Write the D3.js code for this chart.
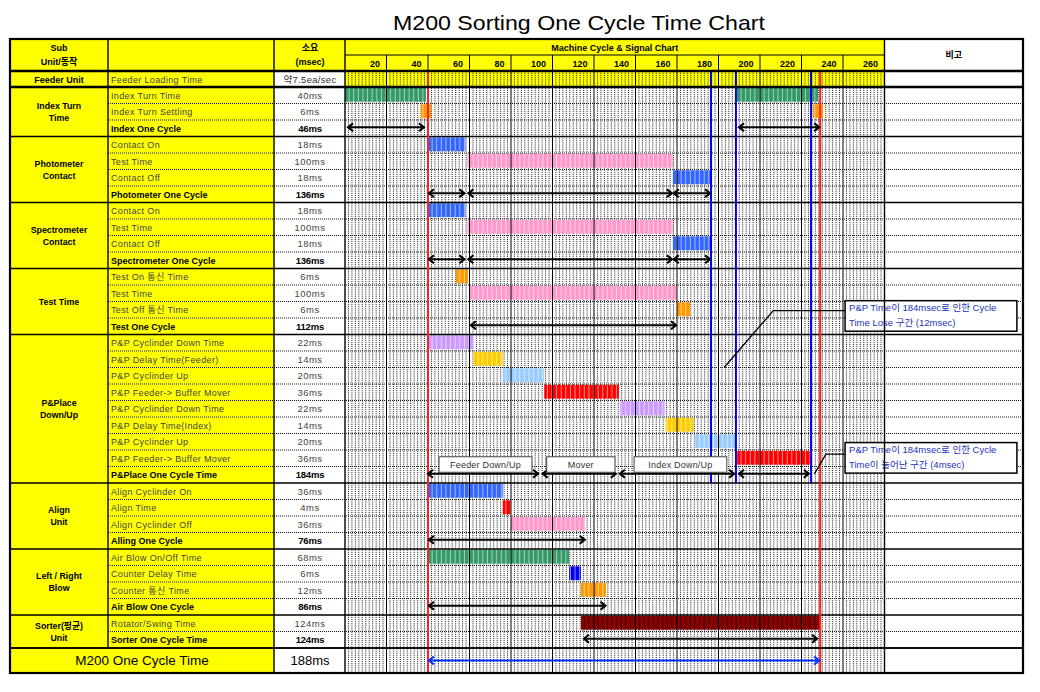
<!DOCTYPE html>
<html><head><meta charset="utf-8">
<script src="https://cdn.jsdelivr.net/npm/d3@7"></script>
<style>
body{margin:0;background:#fff}
svg{display:block}
text{font-family:"Liberation Sans","Noto Sans CJK KR",Arial,sans-serif}
</style>
</head><body>
<svg id="c" width="1040" height="692"></svg>
<script>
// ---------------- DATA ----------------
const title = "M200 Sorting One Cycle Time Chart";
const ticks = [20,40,60,80,100,120,140,160,180,200,220,240,260];
const groupNames = [["Index Turn","Time"],["Photometer","Contact"],["Spectrometer","Contact"],["Test Time"],["P&Place","Down/Up"],["Align","Unit"],["Left / Right","Blow"],["Sorter(평균)","Unit"]];
const groupSizes = [3,4,4,4,9,4,4,2];
const rowNames = ["Index Turn Time","Index Turn Settling","Index One Cycle",
 "Contact On","Test Time","Contact Off","Photometer One Cycle",
 "Contact On","Test Time","Contact Off","Spectrometer One Cycle",
 "Test On 통신 Time","Test Time","Test Off 통신 Time","Test One Cycle",
 "P&P Cyclinder Down Time","P&P Delay Time(Feeder)","P&P Cyclinder Up","P&P Feeder-> Buffer Mover",
 "P&P Cyclinder Down Time","P&P Delay Time(Index)","P&P Cyclinder Up","P&P Feeder-> Buffer Mover","P&Place One Cycle Time",
 "Align Cyclinder On","Align Time","Align Cyclinder Off","Alling One Cycle",
 "Air Blow On/Off Time","Counter Delay Time","Counter 통신 Time","Air Blow One Cycle",
 "Rotator/Swing Time","Sorter One Cycle Time"];
const rowTimes = ["40ms","6ms","46ms","18ms","100ms","18ms","136ms","18ms","100ms","18ms","136ms",
 "6ms","100ms","6ms","112ms","22ms","14ms","20ms","36ms","22ms","14ms","20ms","36ms","184ms",
 "36ms","4ms","36ms","76ms","68ms","6ms","12ms","86ms","124ms","124ms"];
const summaryRows = [2,6,10,14,23,27,31,33];
const feederLabel = ["Feeder Unit","Feeder Loading Time","약7.5ea/sec"];
const totalLabel = ["M200 One Cycle Time","188ms"];
const headerLabels = {unit:["Sub","Unit/동작"], time:["소요","(msec)"], chart:"Machine Cycle & Signal Chart", note:"비고"};
// bars: [row, start, end, kind]  (chart time axis, ms)
const bars = [
 [0,0,39,"green"],[0,188.4,228,"green"],
 [1,36.5,41.5,"orange"],[1,225.5,230.4,"orange"],
 [3,40,58,"blue"],[4,59,158,"pink"],[5,158,176.4,"blue"],
 [7,40,58,"blue"],[8,59,158,"pink"],[9,158,176.4,"blue"],
 [11,53.5,59.3,"orange"],[12,60.2,160,"pink"],[13,160,166.3,"orange"],
 [15,40,62,"purple"],[16,62,76,"yellow"],[17,76,96,"lightblue"],[18,96,132,"red"],
 [19,132.5,154,"purple"],[20,154.5,168,"yellow"],[21,168.5,188,"lightblue"],[22,189,224,"red"],
 [24,40,76,"blue"],[25,76,80,"red"],[26,80,115.7,"pink"],
 [28,40,108,"green"],[29,108,113.7,"darkblue"],[30,113.7,125.8,"orange"],
 [32,113.7,229,"maroon"]
];
// arrows: [row, start, end]
const arrows = [
 [2,1,38.5],[2,189.4,229],
 [6,40,58],[6,59,158],[6,158,176.4],
 [10,40,58],[10,59,158],[10,158,176.4],
 [14,60.2,160],
 [23,39.5,93.5],[23,94.8,131],[23,132,188],[23,189.4,224],
 [27,40,116],[31,40,126],[33,114.7,228]
];
const totalArrow = [40,229];
const redMarkers = [40,229];
const blueMarkers = [176.4,188.4,224.6];
const phaseBoxes = [["Feeder Down/Up",45.3,90.1],["Mover",97.2,130.1],["Index Down/Up",139.3,184]];
const callouts = [
 {lines:["P&P Time이 184msec로 인한 Cycle","Time Lose 구간 (12msec)"], from:[182.7,17.0], elbow:[206.4,13.55], box:[241,323.8,12.95,14.8]},
 {lines:["P&P Time이 184msec로 인한 Cycle","Time이 늘어난 구간 (4msec)"], from:[226.2,23.45], elbow:[231.8,22.25], box:[241,323.8,21.55,23.4]}
];

// ---------------- LAYOUT ----------------
const svg = d3.select("#c");
const L = {A0:10,A1:108,B1:274,C1:345,X1:884.5,D1:1023,top:39,h1:55,h2:71,feedB:87,bodyB:648,bot:673};
const nRows = rowNames.length;
const x = d3.scaleLinear().domain([0,260]).range([L.C1,L.X1]);
const y = d3.scaleLinear().domain([0,nRows]).range([L.feedB,L.bodyB]);
const rh = y(1)-y(0);
const colors = {green:"#339966",orange:"#FF9900",blue:"#3366FF",pink:"#FF99CC",purple:"#CC99FF",
 yellow:"#FFCC00",lightblue:"#99CCFF",red:"#FF0000",darkblue:"#0000EE",maroon:"#8B0000"};
const Y = "#FFFF00";

// patterns for striped bars
const defs = svg.append("defs");
const pw = x(20/9)-x(0);
Object.entries(colors).forEach(([k,c])=>{
  const p = defs.append("pattern").attr("id","p_"+k).attr("patternUnits","userSpaceOnUse")
    .attr("x",L.C1).attr("width",pw).attr("height",20);
  p.append("rect").attr("width",pw).attr("height",20).attr("fill",c);
  p.append("rect").attr("x",pw-1).attr("width",1).attr("height",20)
    .attr("fill",k==="maroon"?"#2a0000":"#fff").attr("opacity",k==="maroon"?0.8:0.55);
});

// title
svg.append("text").attr("x",579).attr("y",30).attr("text-anchor","middle")
  .attr("font-size",21).attr("textLength",372).attr("lengthAdjust","spacingAndGlyphs").text(title);

// backgrounds
const bg = svg.append("g");
bg.append("rect").attr("x",L.A0).attr("y",L.top).attr("width",L.B1-L.A0).attr("height",L.bot-L.top).attr("fill",Y);
bg.append("rect").attr("x",L.B1).attr("y",L.top).attr("width",L.X1-L.B1).attr("height",L.h2-L.top).attr("fill",Y);
bg.append("rect").attr("x",L.C1).attr("y",L.h2).attr("width",L.X1-L.C1).attr("height",L.feedB-L.h2).attr("fill",Y);

// vertical grid in chart
const grid = svg.append("g");
const subs = d3.range(0,260.0001,20/12).filter(t=>Math.abs(t/20-Math.round(t/20))>1e-6);
grid.selectAll("line.sub").data(subs).join("line")
  .attr("x1",d=>x(d)).attr("x2",d=>x(d)).attr("y1",L.h2).attr("y2",L.bot)
  .attr("stroke","#000").attr("stroke-width",0.9).attr("stroke-dasharray","1,1.1");
// horizontal dotted lines between rows
const groupStarts = [0]; groupSizes.forEach((s,i)=>groupStarts.push(groupStarts[i]+s));
const inner = d3.range(1,nRows).filter(i=>!groupStarts.includes(i));
grid.selectAll("line.h").data(inner).join("line")
  .attr("x1",L.A1).attr("x2",L.D1).attr("y1",d=>y(d)).attr("y2",d=>y(d))
  .attr("stroke","#000").attr("stroke-width",0.9).attr("stroke-dasharray","1,1");

// bars
svg.append("g").selectAll("rect").data(bars).join("rect")
  .attr("x",d=>x(d[1])).attr("width",d=>x(d[2])-x(d[1]))
  .attr("y",d=>y(d[0])+0.8).attr("height",rh-2.6)
  .attr("fill",d=>"url(#p_"+d[3]+")");

// solid column lines (every 20ms)
svg.append("g").selectAll("line").data(d3.range(20,260,20)).join("line")
  .attr("x1",d=>x(d)).attr("x2",d=>x(d)).attr("y1",L.h1).attr("y2",L.bot)
  .attr("stroke","#000").attr("stroke-width",1);

// group separators
svg.append("g").selectAll("line").data(groupStarts.slice(1)).join("line")
  .attr("x1",L.A0).attr("x2",L.D1).attr("y1",d=>y(d)).attr("y2",d=>y(d))
  .attr("stroke","#000").attr("stroke-width",1.3);

// markers
const mk = svg.append("g");
mk.selectAll("line.r").data(redMarkers).join("line")
  .attr("x1",d=>x(d)).attr("x2",d=>x(d)).attr("y1",L.h2).attr("y2",L.bot)
  .attr("stroke","#FF2020").attr("stroke-width",2);
mk.selectAll("line.b").data(blueMarkers).join("line")
  .attr("x1",d=>x(d)).attr("x2",d=>x(d)).attr("y1",L.h2).attr("y2",y(24))
  .attr("stroke","#0000EE").attr("stroke-width",2);

// arrows
function arrow(g,x1,x2,yy,color){
  g.append("line").attr("x1",x1+1).attr("x2",x2-1).attr("y1",yy).attr("y2",yy)
   .attr("stroke",color).attr("stroke-width",2);
  g.append("path").attr("d",`M${x1+6},${yy-4}L${x1+1},${yy}L${x1+6},${yy+4}`)
   .attr("fill","none").attr("stroke",color).attr("stroke-width",2.2);
  g.append("path").attr("d",`M${x2-6},${yy-4}L${x2-1},${yy}L${x2-6},${yy+4}`)
   .attr("fill","none").attr("stroke",color).attr("stroke-width",2.2);
}
const ag = svg.append("g");
arrows.forEach(a=>arrow(ag,x(a[1]),x(a[2]),y(a[0]+0.5)-1,"#000"));
arrow(ag,x(totalArrow[0]),x(totalArrow[1]),(L.bodyB+L.bot)/2,"#0033FF");

// phase boxes
const pb = svg.append("g");
phaseBoxes.forEach(b=>{
  pb.append("rect").attr("x",x(b[1])).attr("width",x(b[2])-x(b[1]))
    .attr("y",y(22.5)-1.5).attr("height",15.5).attr("fill","#fff").attr("stroke","#444").attr("stroke-width",1);
  pb.append("text").attr("x",(x(b[1])+x(b[2]))/2).attr("y",y(22.5)+9.5).attr("text-anchor","middle")
    .attr("font-size",9).attr("fill","#333").attr("letter-spacing",0.2).text(b[0]);
});

// callouts
const cg = svg.append("g");
callouts.forEach(c=>{
  cg.append("polyline").attr("points",[[x(c.from[0]),y(c.from[1])],[x(c.elbow[0]),y(c.elbow[1])],[x(c.box[0]),y(c.elbow[1])]].map(p=>p.join(",")).join(" "))
    .attr("fill","none").attr("stroke","#000").attr("stroke-width",1.3);
  const bx=x(c.box[0]), bw=x(c.box[1])-bx, by=y(c.box[2]), bh=y(c.box[3])-by;
  cg.append("rect").attr("x",bx).attr("y",by).attr("width",bw).attr("height",bh)
    .attr("fill","#fff").attr("stroke","#000").attr("stroke-width",1.5);
  c.lines.forEach((t,i)=>cg.append("text").attr("x",bx+4).attr("y",by+10.5+i*15)
    .attr("font-size",9.5).attr("fill","#2233BB").text(t));
});

// column header axis (tick labels)
const axis = d3.axisTop(x).tickValues(ticks).tickSize(0).tickFormat(d3.format("d"));
const ax = svg.append("g").attr("transform",`translate(0,${L.h2-4.5})`).call(axis);
ax.select(".domain").remove();
ax.selectAll("text").attr("text-anchor","end").attr("x",-7).attr("y",0).attr("dy",0)
  .attr("font-size",9).attr("font-weight","bold").attr("fill","#000")
  .attr("font-family",'"Liberation Sans",Arial,sans-serif');

// header texts
const ht = svg.append("g").attr("font-size",9).attr("font-weight","bold").attr("text-anchor","middle");
ht.append("text").attr("x",59).attr("y",51).text(headerLabels.unit[0]);
ht.append("text").attr("x",59).attr("y",65).text(headerLabels.unit[1]);
ht.append("text").attr("x",310).attr("y",51).text(headerLabels.time[0]);
ht.append("text").attr("x",310).attr("y",65).text(headerLabels.time[1]);
ht.append("text").attr("x",(L.C1+L.X1)/2).attr("y",50.5).text(headerLabels.chart);
ht.append("text").attr("x",(L.X1+L.D1)/2).attr("y",58).text(headerLabels.note);

// feeder row
svg.append("text").attr("x",59).attr("y",82.5).attr("text-anchor","middle").attr("font-size",9).attr("font-weight","bold").text(feederLabel[0]);
svg.append("text").attr("x",111).attr("y",82.5).attr("font-size",9).attr("fill","#444").attr("letter-spacing",0.35).text(feederLabel[1]);
svg.append("text").attr("x",310).attr("y",82.5).attr("text-anchor","middle").attr("font-size",9.5).attr("fill","#333").attr("letter-spacing",0.3).text(feederLabel[2]);

// row names and times
const rg = svg.append("g");
rg.selectAll("text.n").data(rowNames).join("text")
  .attr("x",111).attr("y",(d,i)=>y(i+0.5)+3.3).attr("font-size",9)
  .attr("font-weight",(d,i)=>summaryRows.includes(i)?"bold":"normal")
  .attr("fill",(d,i)=>summaryRows.includes(i)?"#000":"#444")
  .attr("letter-spacing",(d,i)=>summaryRows.includes(i)?0:0.35).text(d=>d);
rg.selectAll("text.t").data(rowTimes).join("text")
  .attr("x",310).attr("y",(d,i)=>y(i+0.5)+3.3).attr("text-anchor","middle").attr("font-size",9.5)
  .attr("font-weight",(d,i)=>summaryRows.includes(i)?"bold":"normal")
  .attr("fill",(d,i)=>summaryRows.includes(i)?"#000":"#444")
  .attr("letter-spacing",(d,i)=>summaryRows.includes(i)?-0.2:0.5).text(d=>d);
// group labels
groupNames.forEach((g,i)=>{
  const cy = (y(groupStarts[i])+y(groupStarts[i+1]))/2;
  g.forEach((t,j)=>svg.append("text").attr("x",59).attr("y",cy+3.2+(j-(g.length-1)/2)*12)
    .attr("text-anchor","middle").attr("font-size",8.8).attr("font-weight","bold").text(t));
});
// total row
svg.append("text").attr("x",(L.A0+L.B1)/2).attr("y",665).attr("text-anchor","middle").attr("font-size",13.5).text(totalLabel[0]);
svg.append("text").attr("x",310).attr("y",665).attr("text-anchor","middle").attr("font-size",13).text(totalLabel[1]);

// structural lines
const sl = svg.append("g").attr("stroke","#000");
[[L.A1,L.top,L.bodyB],[L.B1,L.top,L.bot],[L.C1,L.top,L.bot],[L.X1,L.top,L.bot]].forEach(v=>
  sl.append("line").attr("x1",v[0]).attr("x2",v[0]).attr("y1",v[1]).attr("y2",v[2]).attr("stroke-width",1.4));
sl.append("line").attr("x1",L.C1).attr("x2",L.X1).attr("y1",L.h1).attr("y2",L.h1).attr("stroke-width",1.2);
sl.append("line").attr("x1",L.A0).attr("x2",L.D1).attr("y1",L.h2).attr("y2",L.h2).attr("stroke-width",2.5);
sl.append("line").attr("x1",L.A0).attr("x2",L.D1).attr("y1",L.feedB).attr("y2",L.feedB).attr("stroke-width",2.5);
sl.append("line").attr("x1",L.A0).attr("x2",L.D1).attr("y1",L.bodyB).attr("y2",L.bodyB).attr("stroke-width",1.4);
sl.append("rect").attr("x",L.A0).attr("y",L.top).attr("width",L.D1-L.A0).attr("height",L.bot-L.top)
  .attr("fill","none").attr("stroke-width",2.2);
</script>
</body></html>
